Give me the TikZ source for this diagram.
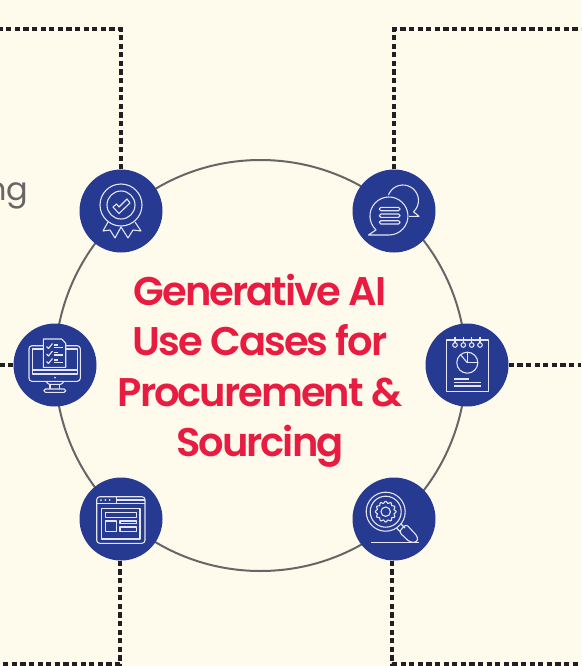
\documentclass[tikz,border=0pt]{standalone}
\usepackage{fontspec}
\setmainfont{Lato}
\newfontfamily\titlefont[LetterSpace=-5]{Poppins SemiBold}
\newfontfamily\fragfont{Poppins}
\definecolor{bgc}{HTML}{FFFBEC}
\definecolor{bluec}{HTML}{263A91}
\definecolor{redc}{HTML}{E81C40}
\definecolor{ringc}{HTML}{666666}
\definecolor{dashc}{HTML}{231F20}
\definecolor{iconc}{HTML}{E4E5EE}
\tikzset{
  hub/.style={circle,fill=bluec,minimum size=83pt,inner sep=0pt},
  ringnode/.style={circle,draw=ringc,line width=2pt,minimum size=411pt,inner sep=0pt},
  dashline/.style={draw=dashc,line width=4pt,dash pattern=on 5.2pt off 3.4pt},
  ico/.style={draw=iconc,line width=1.1pt,line join=round},
  icofill/.style={ico,fill=bluec}
}
\begin{document}
\begin{tikzpicture}[x=1pt,y=-1pt]
\useasboundingbox (0,0) rectangle (581,666);
\clip (0,0) rectangle (581,666);
\fill[bgc] (0,0) rectangle (581,666);
\node[ringnode] (ring) at (260.5,365.5) {};
\node[anchor=base east,text=ringc,inner sep=0pt,font=\fontsize{32pt}{38pt}\selectfont\fragfont] (frag) at (28.5,200.5) {ng};
\coordinate (tl) at (121,29.5); \coordinate (tlend) at (0,29.5);
\coordinate (tr) at (394,29.5); \coordinate (trend) at (581,29.5);
\coordinate (ml) at (0,365); \coordinate (mr) at (581,365);
\coordinate (bl) at (120,664); \coordinate (blend) at (0,664);
\coordinate (br) at (392,664); \coordinate (brend) at (581,664);
\node[hub] (a) at (121,211) {};
\node[hub] (b) at (394,211) {};
\node[hub] (c) at (55,365) {};
\node[hub] (d) at (467,365) {};
\node[hub] (e) at (121,519) {};
\node[hub] (f) at (394,519) {};
\draw[dashline] (a.north) -- (tl) -- (tlend);
\draw[dashline] (b.north) -- (tr) -- (trend);
\draw[dashline] (c.west) -- (ml);
\draw[dashline] (d.east) -- (mr);
\draw[dashline] (e.south -| bl) -- (bl) -- (blend);
\draw[dashline] (f.south -| br) -- (br) -- (brend);
\node[text=redc,align=center,inner sep=0pt,font=\fontsize{40pt}{50.5pt}\selectfont\titlefont] (title) at (260,371) {Generative AI\\Use Cases for\\Procurement \&\\Sourcing};
% icon a
\begin{scope}[shift={(a.center)}]
\draw[ico] (0,-6) circle (21);
\draw[ico] (0,-6) circle (14);
\draw[ico] (-8,-4) -- (-4.5,-7) -- (-2,-4) -- (6,-12) -- (9,-8) -- (-2,2.5) -- cycle;
\draw[ico] (-13,11) -- (-18,20) -- (-11,19) -- (-6,27) -- (0,16) -- (7,27) -- (12,19) -- (20,20) -- (14,11);
\end{scope}
% icon b
\begin{scope}[shift={(b.center)}]
\draw[ico] (-5.6,-15.8) arc (200:407:15.5) -- (25,5.3) -- (15,5.3);
\draw[icofill] (-18,18.9) arc (133:450:19) -- (-25.5,24) -- cycle;
\draw[ico,rounded corners=1.5pt] (-14.7,-3.7) rectangle (6,-0.3);
\draw[ico,rounded corners=1.5pt] (-14.7,3) rectangle (6,6.3);
\draw[ico,rounded corners=1.5pt] (-14.7,9.7) rectangle (6,13);
\end{scope}
% icon c
\begin{scope}[shift={(c.center)}]
\draw[ico,rounded corners=3pt] (-26,-19.3) rectangle (25.3,16.3);
\draw[ico] (-22.7,9) -- (-22.7,-16) -- (22.3,-16) -- (22.3,9) -- cycle;
\draw[ico] (-22.7,5) -- (22.3,5);
\fill[iconc] (0,12.7) circle (1);
\draw[ico,rounded corners=1pt] (-9,16.3) -- (-6.5,19.3) -- (6.5,19.3) -- (9,16.3);
\draw[ico] (-5,19.3) -- (-5,24) (4.5,19.3) -- (4.5,24);
\draw[ico,rounded corners=1.5pt] (-11,24) rectangle (10.7,27.3);
\draw[icofill] (-11.7,-26) -- (6.7,-26) -- (10.7,-21.7) -- (10.7,2.3) -- (-11.7,2.3) -- cycle;
\foreach \yy in {-18.5,-11,-3.5}{
  \draw[ico] (-8.5,\yy) -- (-6.5,\yy+2) -- (-2.5,\yy-3);
  \draw[ico] (-1,\yy-1.5) -- (2.5,\yy-1.5);
  \draw[ico] (-1,\yy+1) -- (7.5,\yy+1);
}
\end{scope}
% icon d
\begin{scope}[shift={(d.center)}]
\draw[ico] (-20.3,-25) rectangle (21.3,26.7);
\foreach \xx in {-12,-3.7,4.7,13}{
  \draw[icofill] (\xx,-20) circle (2.3);
  \draw[ico] (\xx,-22.3) -- (\xx,-27.7);
}
\draw[ico] (0.3,-2.3) circle (10.5);
\draw[ico] (0.3,-2.3) -- (-6.5,-10.3);
\draw[ico] (0.3,-2.3) -- (10.8,-2.3);
\draw[ico] (0.3,-2.3) -- (0.3,-12.8);
\draw[ico] (-13,14) -- (2,14);
\draw[ico] (-13,17.3) -- (14.3,17.3);
\draw[ico] (-13,21) -- (14.3,21);
\end{scope}
% icon e
\begin{scope}[shift={(e.center)}]
\draw[ico,rounded corners=3pt] (-24.3,-22.3) rectangle (24,24.3);
\draw[ico] (-24.3,-15.7) -- (24,-15.7);
\draw[ico] (-4.3,-22.3) -- (-4.3,-15.7);
\draw[ico] (-4.3,-19) -- (24,-19);
\foreach \xx in {-20,-15.7,-11.3}{\fill[iconc] (\xx,-19) circle (1);}
\draw[ico] (-19.3,-10.7) rectangle (19,20);
\draw[ico] (-15.3,-6.7) rectangle (15.7,-1.3);
\draw[ico] (-15.3,2) rectangle (-4.3,12.7);
\draw[ico] (-1,2) rectangle (15.7,4.7);
\draw[ico] (-1,8) rectangle (15.7,12.7);
\end{scope}
% icon f
\begin{scope}[shift={(f.center)}]
\draw[ico] (-8.3,-7.3) circle (19.5);
\draw[ico] (-8.3,-7.3) circle (15.5);
\draw[ico] (-8.3,-7.3) circle (4.7);
\draw[ico,smooth,samples=97,domain=0:360] plot ({-8.3+(9.5+0.9*cos(12*\x))*cos(\x)},{-7.3+(9.5+0.9*cos(12*\x))*sin(\x)});
\draw[ico] (2.5,9) -- (6.5,13) (7,5) -- (11,9);
\draw[ico,rounded corners=3pt] (5,13) -- (12,5) -- (24,18) -- (23,23.3) -- (16,23.3) -- cycle;
\draw[ico] (-23,23.3) -- (25.3,23.3);
\end{scope}
\end{tikzpicture}
\end{document}
